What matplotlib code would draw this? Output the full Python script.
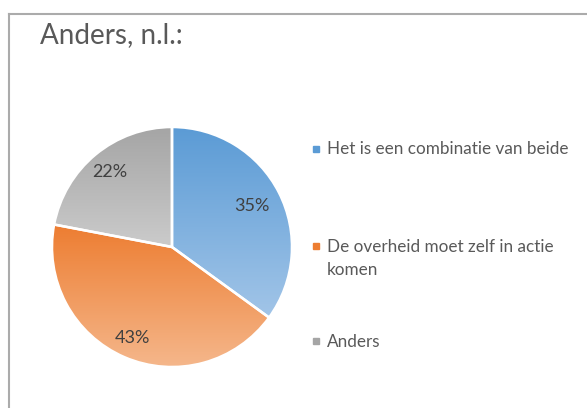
import numpy as np
import matplotlib
matplotlib.use("Agg")
import matplotlib.pyplot as plt
from matplotlib.colors import LinearSegmentedColormap
from matplotlib.lines import Line2D

plt.rcParams['font.family'] = ['Lato', 'DejaVu Sans']

# data
labels = ['Het is een combinatie van beide', 'De overheid moet zelf in actie\nkomen', 'Anders']
values = [35, 43, 22]
pct_labels = ['35%', '43%', '22%']
title = 'Anders, n.l.:'

# gradient colours per slice (top, bottom)
top_cols = ['#5B9BD5', '#ED7D31', '#A5A5A5']
bot_cols = ['#A2C5E8', '#F5B88D', '#CBCBCB']
legend_cols = ['#5B9BD5', '#ED7D31', '#A5A5A5']
label_dist = [0.75, 0.83, 0.81]

W, H = 587, 408
fig = plt.figure(figsize=(W / 100, H / 100), dpi=100)

# frame (only top and left edges visible)
fig.add_artist(Line2D([8.5 / W, 8.5 / W], [0, 1 - 13.5 / H], color='#ABABAB', lw=1.5))
fig.add_artist(Line2D([8.5 / W, 1], [1 - 13.5 / H, 1 - 13.5 / H], color='#ABABAB', lw=1.5))

fig.text(40 / W, 1 - 43 / H, title, fontsize=20, color='#595959', va='baseline', ha='left')

# pie axes: centre (172, 247), radius 120 px
cx, cy, R, m = 172, 247, 120, 130
ax = fig.add_axes([(cx - m) / W, (H - cy - m) / H, 2 * m / W, 2 * m / H])
lim = m / R
ax.axis('off')

wedges, _ = ax.pie(values, startangle=90, counterclock=False, radius=1,
                   wedgeprops=dict(edgecolor='white', linewidth=1.8))

for i, w in enumerate(wedges):
    verts = w.get_path().vertices
    x0, x1 = verts[:, 0].min(), verts[:, 0].max()
    y0, y1 = verts[:, 1].min(), verts[:, 1].max()
    cmap = LinearSegmentedColormap.from_list('g%d' % i, [bot_cols[i], top_cols[i]])
    grad = np.linspace(0, 1, 256).reshape(-1, 1)
    im = ax.imshow(grad, cmap=cmap, origin='lower', extent=[x0, x1, y0, y1],
                   aspect='auto', zorder=1)
    im.set_clip_path(w)
    w.set_facecolor('none')
    w.set_zorder(2)

    ang = np.deg2rad((w.theta1 + w.theta2) / 2)
    d = label_dist[i]
    ax.text(d * np.cos(ang), d * np.sin(ang), pct_labels[i], ha='center', va='center',
            fontsize=13, color='#404040', zorder=3)

ax.set_xlim(-lim, lim)
ax.set_ylim(-lim, lim)
ax.set_aspect('equal')

# legend
mark_y = [149, 245.5, 341]
base_y = [154.5, 251.5, 347]
line_gap = 23.3
for i, lab in enumerate(labels):
    fig.patches.append(plt.Rectangle((313 / W, (H - mark_y[i] - 3) / H), 6 / W, 6 / H,
                                     transform=fig.transFigure, color=legend_cols[i]))
    for k, line in enumerate(lab.split('\n')):
        fig.text(327 / W, 1 - (base_y[i] + k * line_gap) / H, line, fontsize=12.3,
                 color='#595959', ha='left', va='baseline')

fig.savefig('out.png', dpi=100)
